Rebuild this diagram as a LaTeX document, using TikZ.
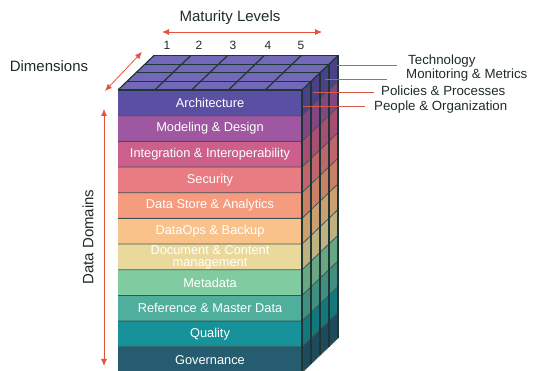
\documentclass[tikz,border=0pt]{standalone}
\usepackage{fontspec}
\setmainfont{Liberation Sans}
\usetikzlibrary{arrows.meta}

\definecolor{archi}{HTML}{5A4FA3}
\definecolor{model}{HTML}{9E57A0}
\definecolor{integ}{HTML}{CC5F8C}
\definecolor{secur}{HTML}{E97C82}
\definecolor{store}{HTML}{F59C7E}
\definecolor{dataops}{HTML}{F9C28A}
\definecolor{docum}{HTML}{EAD99C}
\definecolor{metad}{HTML}{80CBA0}
\definecolor{refer}{HTML}{4FAE9C}
\definecolor{quali}{HTML}{17919A}
\definecolor{gover}{HTML}{255C70}
\definecolor{topface}{HTML}{7468B8}
\definecolor{cubeline}{HTML}{1E3636}
\definecolor{arrowred}{HTML}{E5533F}
\definecolor{labelgray}{HTML}{1F2B2B}

\tikzset{
  rowtext/.style={text=white,font=\fontsize{12.8}{12}\selectfont,align=center,inner sep=0pt},
  headtext/.style={text=labelgray,font=\fontsize{15}{17}\selectfont,inner sep=0pt},
  dimtext/.style={text=labelgray,font=\fontsize{13.3}{15}\selectfont,inner sep=0pt,anchor=west},
  levtext/.style={text=labelgray,font=\fontsize{12}{14}\selectfont,inner sep=0pt},
  redarrow/.style={arrowred,line width=0.8pt,{Latex[length=7pt,width=6pt]}-{Latex[length=7pt,width=6pt]}},
  dimline/.style={arrowred!85!gray,line width=0.8pt},
  gridline/.style={cubeline,line width=1.2pt},
  rowline/.style={cubeline!85,line width=0.8pt}
}

\begin{document}
\begin{tikzpicture}[x=1pt,y=-1pt]
\useasboundingbox (0,0) rectangle (541,371);

%cube info
\def\xl{118}
\def\xr{302}
\def\yt{90}
\def\yb{372.5}
\def\rowh{25.68}
\def\colw{36.8}
\def\dx{36}
\def\dy{-34.5}

%fill right side
\foreach \col [count=\i from 0] in {archi,model,integ,secur,store,dataops,docum,metad,refer,quali,gover}{
    \fill[\col!82!black] (\xr,{\yt+\i*\rowh}) -- ++(\dx,\dy) -- ++(0,\rowh) -- ++(-\dx,-\dy) -- cycle;
}
%fill top
\fill[topface] (\xl,\yt) -- (\xr,\yt) -- ++(\dx,\dy) -- ({\xl+\dx},{\yt+\dy}) -- cycle;

%fill front rows
\foreach \col/\nm/\txt [count=\i from 0] in {
    archi/arch/Architecture,
    model/model/Modeling \& Design,
    integ/integ/Integration \& Interoperability,
    secur/secur/Security,
    store/store/Data Store \& Analytics,
    dataops/dataops/DataOps \& Backup,
    docum/docum/Document \& Content\\management,
    metad/metad/Metadata,
    refer/refer/Reference \& Master Data,
    quali/quali/Quality,
    gover/gover/Governance}{
    \fill[\col] (\xl,{\yt+\i*\rowh}) rectangle (\xr,{\yt+(\i+1)*\rowh});
    \node[rowtext] (\nm) at ({(\xl+\xr)/2},{\yt+(\i+0.5)*\rowh}) {\txt};
}

%draw edges
\foreach \i in {1,...,11}{
    \draw[rowline] (\xl,{\yt+\i*\rowh}) -- (\xr,{\yt+\i*\rowh}) -- ++(\dx,\dy);
}
\foreach \k in {0,...,4}{
    \draw[gridline] ({\xl+\k*\dx/4},{\yt+\k*\dy/4}) -- ({\xr+\k*\dx/4},{\yt+\k*\dy/4}) -- ({\xr+\k*\dx/4},{\yb+\k*\dy/4});
}
\foreach \j in {0,...,4}{
    \draw[gridline] ({\xl+\j*\colw},\yt) -- ++(\dx,\dy);
}
\draw[gridline] (\xr,\yt) -- ++(\dx,\dy);

%dimension labels
\node[dimtext] (tech) at (408,61.5) {Technology};
\node[dimtext] (moni) at (406,75.5) {Monitoring \& Metrics};
\node[dimtext] (poli) at (381,91) {Policies \& Processes};
\node[dimtext] (peop) at (374,107) {People \& Organization};
\coordinate (tech') at (337,65);
\coordinate (moni') at (325,79);
\coordinate (poli') at (313,92.5);
\coordinate (peop') at (303,106);
\foreach \nm/\gap in {tech/11,moni/19,poli/7,peop/9}{
    \draw[dimline,shorten >=\gap pt] (\nm') -- (\nm' -| \nm.west);
}

%axis labels
\node[headtext] (matur) at (230,18) {Maturity Levels};
\foreach \n/\x in {1/167,2/199,3/233,4/268,5/301}{
    \node[levtext] (lev\n) at (\x,45) {\n};
}
\node[headtext] (dims) at (49,66) {Dimensions};
\node[headtext,rotate=90] (domains) at (88,237) {Data Domains};

%draw arrows
\coordinate (matL) at (162,32);
\coordinate (matR) at (322,32);
\coordinate (dimA) at (105,91);
\coordinate (dimB) at (142,52);
\coordinate (domA) at (104,366);
\coordinate (domB) at (104,109);
\draw[redarrow] (matL) -- (matR);
\draw[redarrow] (dimA) -- (dimB);
\draw[redarrow] (domA) -- (domB);

\end{tikzpicture}
\end{document}
